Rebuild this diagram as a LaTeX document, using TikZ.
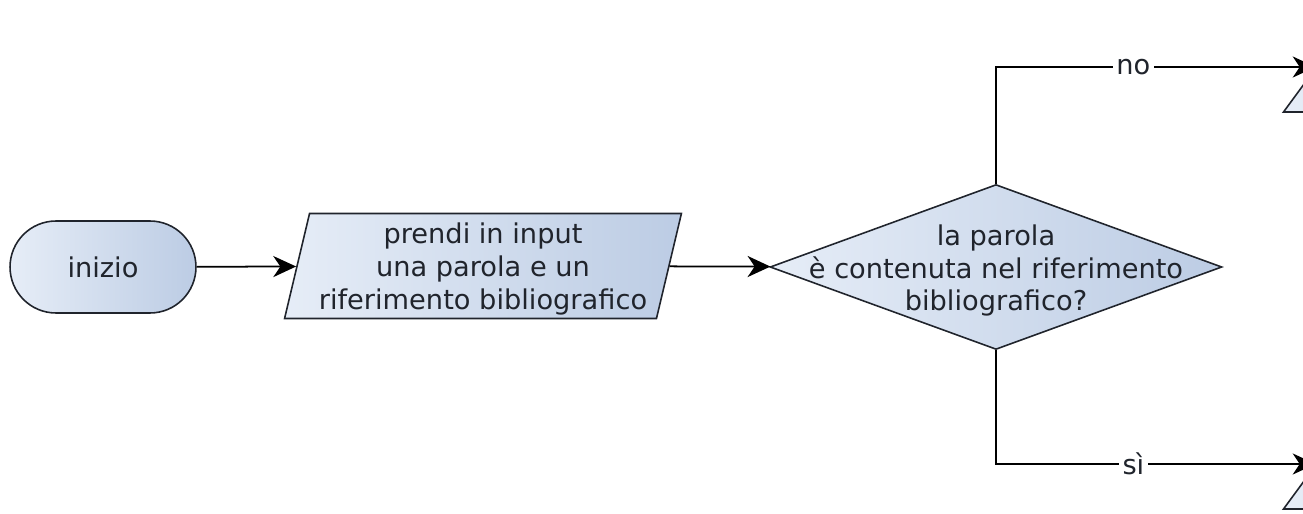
\documentclass[tikz,border=0pt]{standalone}
\usepackage{fontspec}
\setmainfont{DejaVu Sans}
\usetikzlibrary{shapes.geometric,arrows.meta}

\definecolor{boxlight}{RGB}{230,237,247}
\definecolor{boxdark}{RGB}{188,204,228}
\definecolor{boxline}{RGB}{32,36,44}

\begin{document}
\begin{tikzpicture}[x=0.02cm,y=-0.02cm,
        every node/.style={font=\fontsize{15.5}{18.7}\selectfont, text=boxline},
        box/.style={draw=boxline, line width=0.9pt, left color=boxlight, right color=boxdark},
        terminal/.style={box, rectangle, rounded corners=0.92cm, minimum width=3.72cm, minimum height=1.84cm},
        io/.style={box, trapezium, trapezium left angle=76, trapezium right angle=104, trapezium stretches=true, minimum width=7.94cm, minimum height=2.1cm, align=center},
        decision/.style={box, diamond, inner sep=0pt, minimum width=9.04cm, minimum height=3.3cm},
        flow/.style={-{Stealth[length=13pt,width=12pt,inset=4pt]}, line width=1pt},
        answer/.style={fill=white, inner sep=2pt}]
        \clip (0,0) rectangle (1303,514);

        \node[terminal] (start) at (103,267) {inizio};
        \node[io, text depth=-6pt] (input) at (483,266) {prendi in input\\una parola e un\\riferimento bibliografico};
        \node[decision, label={[align=center, yshift=-2pt]center:la parola\\è contenuta nel riferimento\\bibliografico?}] (check) at (996,267) {};
        \node[io, minimum height=1.8cm] (outno) at (1482,67) {};
        \node[io, minimum height=1.8cm] (outsi) at (1482,464) {};

        \draw[flow] (start) -- (input); % start to input
        \draw[flow] (input) -- (check); % input to test
        \draw[flow] (check.north) |- (outno) node[answer, pos=0.715] {no}; % word not found
        \draw[flow] (check.south) |- (outsi) node[answer, pos=0.715] {sì}; % word found
    \end{tikzpicture}
\end{document}
